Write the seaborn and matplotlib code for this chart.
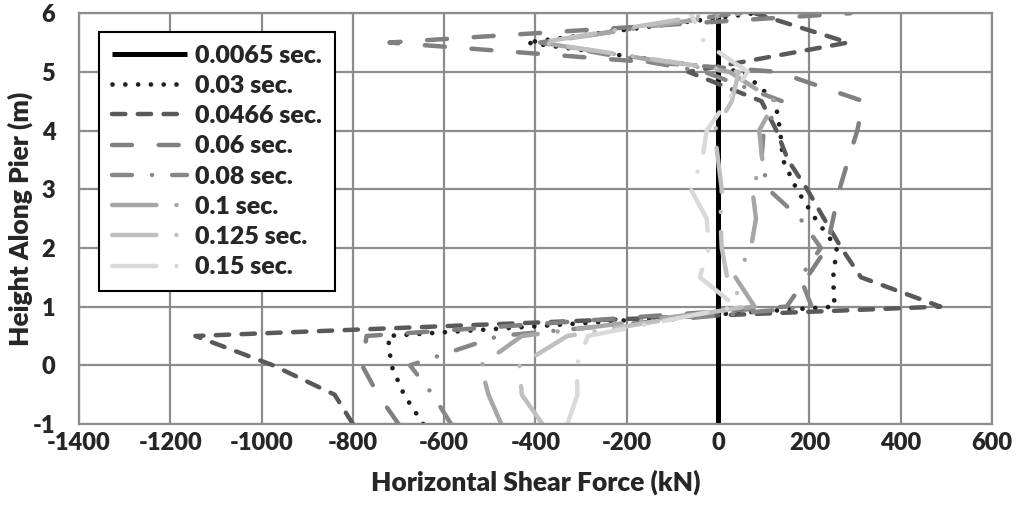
import matplotlib
matplotlib.use("Agg")
import matplotlib.pyplot as plt
import seaborn as sns

# node heights along the pier (m)
heights = [-1, -0.5, 0, 0.5, 1, 1.5, 2, 2.5, 3, 3.5, 4, 4.5, 5, 5.5, 6]

# horizontal shear force (kN) at each node, one list per time step
t_0065 = [0, 0, 0, 0, 0, 0, 0, 0, 0, 0, 0, 0, 0, 0, 0]
t_003 = [-646, -688, -716, -723, 255, 252, 260, 213, 172, 142, 136, 125, 55, -420, 80]
t_0466 = [-800, -840, -975, -1145, 487, 313, 270, 232, 195, 153, 128, 95, -65, 285, 80]
t_006 = [-700, -745, -780, -770, 150, 195, 238, 252, 266, 285, 305, 318, 130, -720, 290]
t_008 = [-585, -625, -675, -480, 205, 180, 225, 180, 110, 95, 100, 140, -30, -390, 40]
t_01 = [-475, -503, -520, -430, 80, 38, 72, 83, 75, 97, 90, 125, 25, -390, 50]
t_0125 = [-385, -430, -435, -330, 60, 20, 8, 5, 8, 0, -8, 30, 45, -390, 0]
t_015 = [-330, -308, -310, -285, 40, -40, -20, -25, -60, -35, -25, 20, 65, -30, -60]

labels = ["0.0065 sec.", "0.03 sec.", "0.0466 sec.", "0.06 sec.",
          "0.08 sec.", "0.1 sec.", "0.125 sec.", "0.15 sec."]
series = [t_0065, t_003, t_0466, t_006, t_008, t_01, t_0125, t_015]

colors = ["#000000", "#1f1f1f", "#595959", "#808080",
          "#878787", "#a6a6a6", "#bfbfbf", "#d9d9d9"]
widths = [3.6, 3.4, 3.2, 3.2, 3.2, 3.2, 3.2, 3.2]
dashes = [None, (0.01, 2.7), (3.0, 2.8), (4.5, 6.0),
          (4.5, 4.5, 0.01, 4.5), (10, 4.5, 0.01, 4.5),
          (10, 4.5, 0.01, 4.5), (10, 4.5, 0.01, 4.5)]

sns.set_theme(style="white")
plt.rcParams["font.family"] = ["Lato", "DejaVu Sans"]
plt.rcParams["axes.unicode_minus"] = False
plt.rcParams["lines.dash_capstyle"] = "round"
plt.rcParams["lines.solid_capstyle"] = "round"

fig, ax = plt.subplots(figsize=(10.19, 5.07), dpi=100)
fig.subplots_adjust(left=0.0775, right=0.9735, top=0.974, bottom=0.1637)

for xs, lab, col, lw, ds in zip(series, labels, colors, widths, dashes):
    sns.lineplot(x=xs, y=heights, sort=False, estimator=None, color=col,
                 lw=lw, label=lab, ax=ax, legend=False)
    line = ax.lines[-1]
    if lab == "0.0065 sec.":
        line.set_solid_capstyle("butt")
    if ds is not None:
        line.set_dashes(ds)

ax.set_xlim(-1400, 600)
ax.set_ylim(-1, 6)
ax.set_xticks(range(-1400, 601, 200))
ax.set_yticks(range(-1, 7))
ax.grid(True, color="#8c8c8c", lw=1.6)
ax.set_axisbelow(True)
for sp in ax.spines.values():
    sp.set_color("#8c8c8c")
    sp.set_linewidth(1.6)
ax.tick_params(axis="x", length=0, labelsize=17, pad=6)
ax.tick_params(axis="y", length=0, labelsize=17, pad=17)
for t in ax.get_xticklabels() + ax.get_yticklabels():
    t.set_fontweight("heavy")
ax.set_xlabel("Horizontal Shear Force (kN)", fontsize=19, fontweight="heavy", labelpad=11)
ax.set_ylabel("Height Along Pier (m)", fontsize=19, fontweight="heavy", labelpad=0)

leg = ax.legend(loc="upper left", bbox_to_anchor=(0.022, 0.954), borderaxespad=0,
                fancybox=False, framealpha=1, edgecolor="black",
                prop={"weight": "heavy", "size": 18}, handlelength=3.0,
                labelspacing=0.33, borderpad=0.5, handletextpad=0.35)
leg.get_frame().set_linewidth(1.5)

fig.savefig("out.png", dpi=100)
